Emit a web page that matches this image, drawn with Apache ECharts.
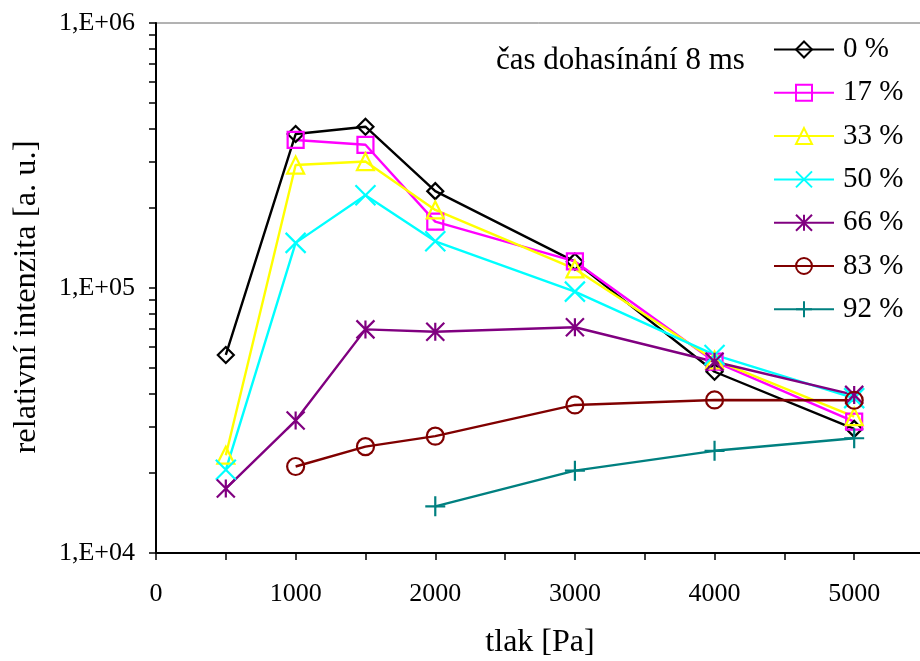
<!DOCTYPE html>
<html>
<head>
<meta charset="utf-8">
<script src="https://cdn.jsdelivr.net/npm/echarts@6/dist/echarts.min.js"></script>
<style>
  html, body { margin: 0; padding: 0; background: #fff; }
  #chart { width: 920px; height: 661px; }
</style>
</head>
<body>
<div id="chart"></div>
<script>
// tlak [Pa]
var pressure = [500, 1000, 1500, 2000, 3000, 4000, 5000];
// relativni intenzita pro jednotlive podily (null = bez mereni)
var p0  = [55900, 381000, 406000, 232000, 125700, 48300, 29400];
var p17 = [null, 362000, 347000, 178000, 126000, 52700, 31300];
var p33 = [23400, 291000, 300000, 197000, 118000, 53500, 32700];
var p50 = [20600, 148000, 224000, 150000, 96900, 55900, 38400];
var p66 = [17500, 31600, 69800, 68400, 71100, 52700, 39500];
var p83 = [null, 21200, 25200, 27600, 36200, 37800, 37700];
var p92 = [null, null, null, 15000, 20450, 24300, 27100];

var names = ['0 %', '17 %', '33 %', '50 %', '66 %', '83 %', '92 %'];
var yMajor = [1e4, 1e5, 1e6];
var yMinor = [2e4, 3e4, 4e4, 5e4, 6e4, 7e4, 8e4, 9e4, 2e5, 3e5, 4e5, 5e5, 6e5, 7e5, 8e5, 9e5];

var font = 'Liberation Serif';

function pairs(arr) {
  return pressure.map(function (p, i) { return [p, arr[i]]; })
    .filter(function (d) { return d[1] != null; });
}

function makeSeries(name, arr, color, symbol, size) {
  return {
    name: name,
    type: 'line',
    data: pairs(arr),
    symbol: symbol,
    symbolSize: size,
    showAllSymbol: true,
    lineStyle: { color: color, width: 2.4 },
    itemStyle: { color: 'rgba(0,0,0,0)', borderColor: color, borderWidth: 2.2 },
    emphasis: { disabled: true }
  };
}

var chart = echarts.init(document.getElementById('chart'));
chart.setOption({
  animation: false,
  textStyle: { fontFamily: font },
  title: {
    text: 'čas dohasínání 8 ms',
    left: 496, top: 45, padding: 0,
    textStyle: { fontFamily: font, fontSize: 31, fontWeight: 'normal', color: '#000' }
  },
  legend: {
    orient: 'vertical',
    left: 773, top: 35,
    padding: 0,
    itemWidth: 60, itemHeight: 20, itemGap: 14.3,
    textStyle: { fontFamily: font, fontSize: 29, lineHeight: 28, color: '#000', padding: [0, 0, 0, 4] },
    data: names
  },
  grid: {
    left: 156, top: 23, right: -4, bottom: 108,
    outerBoundsMode: 'none',
    show: true, borderColor: '#666', borderWidth: 1
  },
  xAxis: {
    type: 'value', min: 0, max: 5500, interval: 500,
    name: 'tlak [Pa]', nameLocation: 'middle', nameGap: 74,
    nameTextStyle: { fontFamily: font, fontSize: 32, color: '#000' },
    axisLine: { lineStyle: { color: '#000', width: 2 } },
    axisTick: { show: true, length: 7, lineStyle: { color: '#000', width: 1.5 } },
    axisLabel: {
      fontFamily: font, fontSize: 26, color: '#000', margin: 28,
      formatter: function (v) { return (v % 1000 === 0 && v <= 5000) ? String(v) : ''; }
    },
    splitLine: { show: false }
  },
  yAxis: {
    type: 'log', logBase: 10, min: 1e4, max: 1e6,
    name: 'relativní intenzita [a. u.]', nameLocation: 'middle', nameGap: 113,
    nameTextStyle: { fontFamily: font, fontSize: 32.5, color: '#000', padding: [0, 18, 0, 0] },
    axisLine: { show: true, lineStyle: { color: '#000', width: 2 } },
    axisTick: { show: true, length: 7, lineStyle: { color: '#000', width: 1.5 },
      customValues: yMajor.concat(yMinor) },
    axisLabel: {
      fontFamily: font, fontSize: 26, color: '#000', margin: 21,
      customValues: yMajor,
      formatter: function (v) {
        var e = Math.round(Math.log10(v));
        return '1,E+' + (e < 10 ? '0' : '') + e;
      }
    },
    splitLine: { show: false }
  },
  series: [
    makeSeries('0 %', p0, '#000000', 'path://M5,0L10,5L5,10L0,5Z', 16),
    makeSeries('17 %', p17, '#ff00ff', 'path://M0,0L10,0L10,10L0,10Z', 16),
    makeSeries('33 %', p33, '#ffff00', 'path://M5,0L10,10L0,10Z', 17),
    makeSeries('50 %', p50, '#00ffff', 'path://M0,0L10,10M10,0L0,10', 20),
    makeSeries('66 %', p66, '#800080', 'path://M0,0L10,10M10,0L0,10M5,0L5,10', 18),
    makeSeries('83 %', p83, '#800000', 'path://M0,5A5,5,0,1,1,10,5A5,5,0,1,1,0,5Z', 17),
    makeSeries('92 %', p92, '#008080', 'path://M5,0L5,10M0,5L10,5', 20)
  ]
});
</script>
</body>
</html>
